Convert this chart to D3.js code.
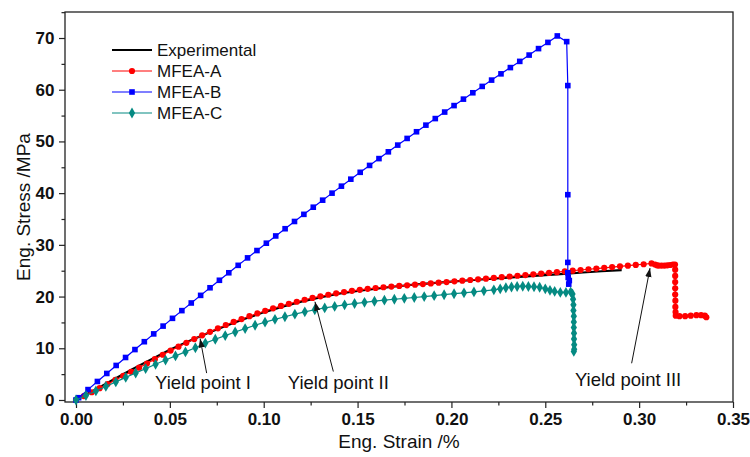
<!DOCTYPE html>
<html>
<head>
<meta charset="utf-8">
<script src="https://cdn.jsdelivr.net/npm/d3@7"></script>
<style>
  html, body { margin: 0; padding: 0; background: #fff; }
  svg { display: block; font-family: "Liberation Sans", Arial, sans-serif; }
</style>
</head>
<body>
<svg id="chart" width="750" height="457"></svg>
<script>
// ---------------- DATA ----------------
const xTicks = [0, 0.05, 0.10, 0.15, 0.20, 0.25, 0.30, 0.35];
const yTicks = [0, 10, 20, 30, 40, 50, 60, 70];
const seriesNames = ["Experimental", "MFEA-A", "MFEA-B", "MFEA-C"];

// Experimental (strain %, stress MPa)
const experimental = [
  [0,0],[0.01,1.95],[0.02,3.95],[0.03,5.95],[0.04,7.85],[0.05,9.7],[0.06,11.35],[0.07,12.9],
  [0.08,14.35],[0.09,15.7],[0.10,16.95],[0.11,18.05],[0.12,19.0],[0.13,19.85],[0.14,20.55],
  [0.15,21.1],[0.16,21.55],[0.17,21.95],[0.18,22.3],[0.19,22.6],[0.20,22.9],[0.21,23.15],
  [0.22,23.4],[0.23,23.65],[0.24,23.9],[0.25,24.15],[0.26,24.4],[0.27,24.65],[0.28,24.9],[0.2907,25.1]
];

// MFEA-A
const mfeaA = [
  [0,0],[0.0042,0.75],[0.0084,1.5],[0.0126,2.28],[0.0168,3.07],[0.021,3.87],[0.0252,4.65],
  [0.0294,5.45],[0.0336,6.25],[0.0378,7.05],[0.042,7.9],[0.0462,8.75],[0.0504,9.55],[0.0546,10.3],
  [0.0588,11.05],[0.063,11.78],[0.0672,12.5],[0.0714,13.18],[0.0756,13.85],[0.0798,14.5],[0.084,15.1],
  [0.0882,15.65],[0.0924,16.2],[0.0966,16.73],[0.1008,17.24],[0.105,17.72],[0.1092,18.18],[0.1134,18.6],
  [0.1176,19.0],[0.1218,19.38],[0.126,19.73],[0.1302,20.05],[0.1344,20.35],[0.1386,20.62],[0.1428,20.87],
  [0.147,21.1],[0.1512,21.3],[0.1554,21.5],[0.1596,21.66],[0.1638,21.8],[0.168,21.93],[0.1722,22.05],
  [0.1764,22.17],[0.1806,22.3],[0.1848,22.42],[0.189,22.55],[0.1932,22.68],[0.1974,22.81],[0.2016,22.94],
  [0.2058,23.07],[0.21,23.2],[0.2142,23.33],[0.2184,23.46],[0.2226,23.6],[0.2268,23.74],[0.231,23.88],
  [0.2352,24.02],[0.2394,24.16],[0.2436,24.3],[0.2478,24.45],[0.252,24.58],[0.2562,24.72],[0.2604,24.86],
  [0.2646,25.0],[0.2688,25.14],[0.273,25.28],[0.2772,25.42],[0.2814,25.56],[0.2856,25.7],[0.2898,25.84],
  [0.294,25.98],[0.2982,26.12],[0.3024,26.25],[0.3066,26.4],[0.3085,26.2],[0.3095,26.05],[0.3105,26.0],
  [0.312,26.0],[0.3135,26.0],[0.315,26.05],[0.3165,26.1],[0.318,26.2],[0.3191,26.2],[0.3192,25.2],
  [0.3192,24.0],[0.3192,22.8],[0.3192,21.6],[0.3192,20.4],[0.3193,19.2],[0.3193,18.0],[0.3194,17.0],
  [0.3195,16.3],[0.3215,16.2],[0.3245,16.2],[0.3275,16.3],[0.3305,16.4],[0.333,16.4],[0.335,16.3],[0.3358,16.0]
];

// MFEA-B
const mfeaB = [
  [0,0],[0.0014,0.44],[0.0064,2.01],[0.0114,3.58],[0.0164,5.13],[0.0214,6.68],[0.0264,8.22],[0.0314,9.75],
  [0.0364,11.27],[0.0414,12.78],[0.0464,14.29],[0.0514,15.79],[0.0564,17.28],[0.0614,18.76],[0.0664,20.23],
  [0.0714,21.70],[0.0764,23.15],[0.0814,24.60],[0.0864,26.04],[0.0914,27.48],[0.0964,28.90],[0.1014,30.32],
  [0.1064,31.72],[0.1114,33.12],[0.1164,34.52],[0.1214,35.90],[0.1264,37.28],[0.1314,38.64],[0.1364,40.00],
  [0.1414,41.35],[0.1464,42.70],[0.1514,44.03],[0.1564,45.36],[0.1614,46.68],[0.1664,47.99],[0.1714,49.29],
  [0.1764,50.58],[0.1814,51.87],[0.1864,53.15],[0.1914,54.42],[0.1964,55.68],[0.2014,56.93],[0.2064,58.18],
  [0.2114,59.41],[0.2164,60.64],[0.2214,61.86],[0.2264,63.07],[0.2314,64.28],[0.2364,65.48],[0.2414,66.70],
  [0.2464,67.95],[0.2514,69.15],[0.2564,70.4],[0.2614,69.3],[0.2620,60.8],[0.2620,39.7],[0.2620,26.6],
  [0.2620,24.6],[0.2622,23.7],[0.2628,23.1],[0.2625,22.4]
];

// MFEA-C
const mfeaC = [
  [0,0],[0.0053,0.87],[0.0106,1.75],[0.0159,2.62],[0.0212,3.5],[0.0265,4.37],[0.0318,5.22],[0.0371,6.07],
  [0.0424,6.9],[0.0477,7.72],[0.053,8.52],[0.0583,9.3],[0.0636,10.1],[0.0689,11.0],[0.0742,11.75],
  [0.0795,12.45],[0.0848,13.15],[0.0901,13.8],[0.0954,14.45],[0.1007,15.05],[0.106,15.6],[0.1113,16.1],
  [0.1166,16.6],[0.1219,17.05],[0.1272,17.45],[0.1325,17.8],[0.1378,18.1],[0.1431,18.4],[0.1484,18.65],
  [0.1537,18.88],[0.159,19.1],[0.1643,19.3],[0.1696,19.48],[0.1749,19.65],[0.1802,19.82],[0.1855,20.0],
  [0.1908,20.18],[0.1961,20.36],[0.2014,20.55],[0.2067,20.72],[0.212,20.9],[0.2173,21.1],[0.2226,21.3],
  [0.226,21.5],[0.229,21.7],[0.232,21.85],[0.235,21.95],[0.238,22.0],[0.241,21.95],[0.244,21.9],
  [0.247,21.8],[0.25,21.5],[0.2525,21.2],[0.255,21.0],[0.258,20.8],[0.261,20.8],[0.2635,20.9],
  [0.2645,20.5],[0.2648,19.5],[0.265,18.4],[0.265,17.3],[0.2652,16.2],[0.2652,15.1],[0.2652,14.0],
  [0.2653,12.9],[0.2653,11.8],[0.2654,10.7],[0.2654,9.8],[0.2652,9.4]
];

// Annotations: label, text anchor (strain, stress), arrow start, arrow tip
const annotations = [
  { label: "Yield point I",   text: [0.0421, 3.3], from: [0.0696, 5.2], to: [0.0661, 11.9] },
  { label: "Yield point II",  text: [0.1128, 3.3], from: [0.1371, 5.5], to: [0.1273, 19.0] },
  { label: "Yield point III", text: [0.2658, 3.9], from: [0.2960, 7.1], to: [0.3058, 25.5] }
];

// ---------------- CHART ----------------
const svg = d3.select("#chart");
const pLeft = 65, pRight = 733, pTop = 12, pBottom = 402;
const x = d3.scaleLinear().domain([-0.00586, 0.35]).range([pLeft, pRight]);
const y = d3.scaleLinear().domain([-0.39, 75.03]).range([pBottom, pTop]);

const frameColor = "#222";

// Frame
svg.append("rect").attr("x", pLeft).attr("y", pTop)
  .attr("width", pRight - pLeft).attr("height", pBottom - pTop)
  .attr("fill", "none").attr("stroke", frameColor).attr("stroke-width", 1.3);

// Axes
const xAxis = svg.append("g").attr("transform", `translate(0,${pBottom})`)
  .call(d3.axisBottom(x).tickValues(xTicks).tickFormat(d3.format(".2f")).tickSize(6).tickSizeOuter(0));
const xMinor = svg.append("g").attr("transform", `translate(0,${pBottom})`)
  .call(d3.axisBottom(x).tickValues(xTicks.slice(0, -1).map(d => d + 0.025)).tickFormat("").tickSize(3.5).tickSizeOuter(0));
const yAxis = svg.append("g").attr("transform", `translate(${pLeft},0)`)
  .call(d3.axisLeft(y).tickValues(yTicks).tickFormat(d3.format("d")).tickSize(6).tickSizeOuter(0));
const yMinor = svg.append("g").attr("transform", `translate(${pLeft},0)`)
  .call(d3.axisLeft(y).tickValues(yTicks.map(d => d + 5)).tickFormat("").tickSize(3.5).tickSizeOuter(0));

[xAxis, xMinor, yAxis, yMinor].forEach(g => {
  g.select(".domain").remove();
  g.selectAll(".tick line").attr("stroke", frameColor).attr("stroke-width", 1.2);
  g.selectAll("text").attr("fill", "#111").style("font-family", '"Liberation Sans", Arial, sans-serif')
    .style("font-size", "17px").style("font-weight", "bold");
});
xAxis.selectAll("text").attr("dy", "0.71em").attr("y", 11);
yAxis.selectAll("text").attr("x", -10.5);

// Axis titles
svg.append("text").attr("x", (pLeft + pRight) / 2).attr("y", 448)
  .attr("text-anchor", "middle").style("font-size", "19px").attr("fill", "#111")
  .text("Eng. Strain /%");
svg.append("text").attr("transform", `translate(23,${(pTop + pBottom) / 2}) rotate(-90)`)
  .attr("text-anchor", "middle").attr("dy", "0.35em").style("font-size", "19px").attr("fill", "#111")
  .text("Eng. Stress /MPa");

const line = d3.line().x(d => x(d[0])).y(d => y(d[1]));

const colors = { exp: "#000000", A: "#ff0000", B: "#0000ff", C: "#058a82" };

// Experimental
svg.append("path").datum(experimental).attr("d", line)
  .attr("fill", "none").attr("stroke", colors.exp).attr("stroke-width", 2.2);

// MFEA-A
svg.append("path").datum(mfeaA).attr("d", line)
  .attr("fill", "none").attr("stroke", colors.A).attr("stroke-width", 1.2);
svg.append("g").selectAll("circle").data(mfeaA).join("circle")
  .attr("cx", d => x(d[0])).attr("cy", d => y(d[1])).attr("r", 3.1).attr("fill", colors.A);

// MFEA-B
svg.append("path").datum(mfeaB).attr("d", line)
  .attr("fill", "none").attr("stroke", colors.B).attr("stroke-width", 1.2);
svg.append("g").selectAll("rect").data(mfeaB).join("rect")
  .attr("x", d => x(d[0]) - 2.8).attr("y", d => y(d[1]) - 2.8).attr("width", 5.6).attr("height", 5.6)
  .attr("fill", colors.B);

// MFEA-C
svg.append("path").datum(mfeaC).attr("d", line)
  .attr("fill", "none").attr("stroke", colors.C).attr("stroke-width", 1.2);
const diamond = d3.symbol().type(d3.symbolDiamond).size(34);
svg.append("g").selectAll("path").data(mfeaC).join("path")
  .attr("d", diamond).attr("transform", d => `translate(${x(d[0])},${y(d[1])})`)
  .attr("fill", colors.C);

// Legend
const legend = svg.append("g").attr("transform", "translate(112,50)");
const legendItems = [
  { name: seriesNames[0], color: colors.exp, mark: null, w: 2.2 },
  { name: seriesNames[1], color: colors.A, mark: "circle", w: 1.2 },
  { name: seriesNames[2], color: colors.B, mark: "square", w: 1.2 },
  { name: seriesNames[3], color: colors.C, mark: "diamond", w: 1.2 }
];
legendItems.forEach((it, i) => {
  const g = legend.append("g").attr("transform", `translate(0,${i * 21})`);
  g.append("line").attr("x1", 0).attr("x2", 40).attr("y1", 0).attr("y2", 0)
    .attr("stroke", it.color).attr("stroke-width", it.w);
  if (it.mark === "circle") g.append("circle").attr("cx", 20).attr("cy", 0).attr("r", 3.1).attr("fill", it.color);
  if (it.mark === "square") g.append("rect").attr("x", 17.2).attr("y", -2.8).attr("width", 5.6).attr("height", 5.6).attr("fill", it.color);
  if (it.mark === "diamond") g.append("path").attr("d", diamond).attr("transform", "translate(20,0)").attr("fill", it.color);
  g.append("text").attr("x", 45).attr("y", 0).attr("dy", "0.35em")
    .style("font-size", "17px").attr("fill", "#111").text(it.name);
});

// Arrowhead marker
svg.append("defs").append("marker").attr("id", "arrow")
  .attr("viewBox", "0 0 10 10").attr("refX", 10).attr("refY", 5)
  .attr("markerWidth", 9).attr("markerHeight", 9).attr("markerUnits", "userSpaceOnUse")
  .attr("orient", "auto")
  .append("path").attr("d", "M0,1.5 L10,5 L0,8.5 Z").attr("fill", "#111");

annotations.forEach(a => {
  svg.append("line")
    .attr("x1", x(a.from[0])).attr("y1", y(a.from[1]))
    .attr("x2", x(a.to[0])).attr("y2", y(a.to[1]))
    .attr("stroke", "#111").attr("stroke-width", 1).attr("marker-end", "url(#arrow)");
  svg.append("text").attr("x", x(a.text[0])).attr("y", y(a.text[1])).attr("dy", "0.35em")
    .style("font-size", "18.5px").attr("fill", "#111").text(a.label);
});
</script>
</body>
</html>
